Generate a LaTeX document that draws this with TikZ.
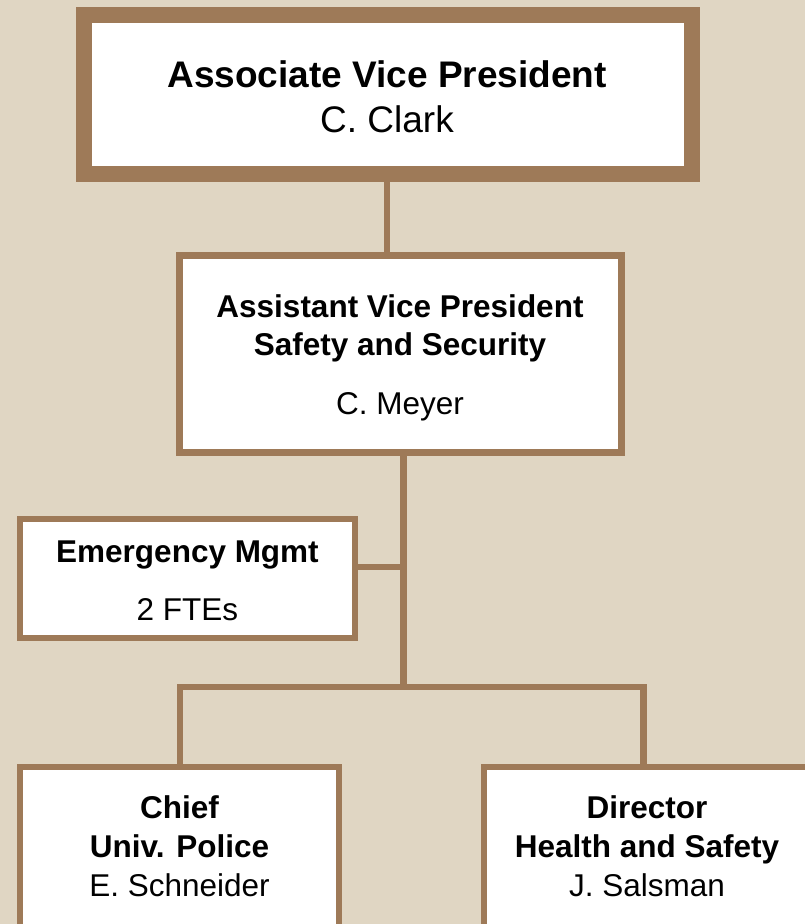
\documentclass[tikz,border=0pt]{standalone}
\usepackage{fontspec}
\setmainfont{Liberation Sans}
\definecolor{bg}{RGB}{224,214,195}
\definecolor{brn}{RGB}{158,122,88}
\begin{document}
\begin{tikzpicture}[x=1pt,y=-1pt,
  box/.style={draw=brn,fill=white,rectangle,inner sep=0pt,outer sep=0pt,line width=6pt},
  conn/.style={draw=brn,line width=6.5pt},
  big/.style={anchor=base,inner sep=0pt,font=\fontsize{37}{44}\selectfont},
  txt/.style={anchor=base,inner sep=0pt,font=\fontsize{31.5}{38}\selectfont}]
\useasboundingbox (0,0) rectangle (805,924);
\fill[bg] (0,0) rectangle (805,924);
\clip (0,0) rectangle (805,924);
% boxes
\node[box,line width=16pt,minimum width=608pt,minimum height=159pt] (top) at (388,94.5) {};
\node[box,line width=7pt,minimum width=442pt,minimum height=197pt] (avp) at (400.5,354) {};
\node[box,minimum width=335pt,minimum height=119pt] (emg) at (187.5,578.5) {};
\node[box,minimum width=319pt,minimum height=220pt,anchor=north] (chief) at (179.5,767) {};
\node[box,minimum width=326pt,minimum height=220pt,anchor=north] (dir) at (647,767) {};
% junctions
\coordinate (c1) at (387,0);
\coordinate (jm) at (403.5,567);
\coordinate (jb) at (403.5,687);
\coordinate (jl) at (180,687);
\coordinate (jr) at (643.5,687);
% connectors
\draw[conn] (top.south -| c1) -- (avp.north -| c1);
\draw[conn] (avp.south -| jm) -- (jb);
\draw[conn] (emg.east |- jm) -- (jm);
\draw[conn,line cap=rect] (jl) -- (jr);
\draw[conn] (jl) -- (chief.north -| jl);
\draw[conn] (jr) -- (dir.north -| jr);
% texts
\node[big,font=\fontsize{37}{44}\selectfont\bfseries] (t1) at (387,87) {Associate Vice President};
\node[big] (t2) at (387,132) {C. Clark};
\node[txt,font=\fontsize{31.5}{38}\selectfont\bfseries] (a1) at (400,317) {Assistant Vice President};
\node[txt,font=\fontsize{31.5}{38}\selectfont\bfseries] (a2) at (400,355.5) {Safety and Security};
\node[txt] (a3) at (400,414) {C. Meyer};
\node[txt,font=\fontsize{31.5}{38}\selectfont\bfseries] (e1) at (187.5,562) {Emergency Mgmt};
\node[txt] (e2) at (187.5,620) {2 FTEs};
\node[txt,font=\fontsize{31.5}{38}\selectfont\bfseries] (p1) at (179.5,818.5) {Chief};
\node[txt,font=\fontsize{31.5}{38}\selectfont\bfseries] (p2) at (179.5,857.5) {Univ. Police};
\node[txt] (p3) at (179.5,896) {E. Schneider};
\node[txt,font=\fontsize{31.5}{38}\selectfont\bfseries] (d1) at (647,818.5) {Director};
\node[txt,font=\fontsize{31.5}{38}\selectfont\bfseries] (d2) at (647,857.5) {Health and Safety};
\node[txt] (d3) at (647,896) {J. Salsman};
\end{tikzpicture}
\end{document}
